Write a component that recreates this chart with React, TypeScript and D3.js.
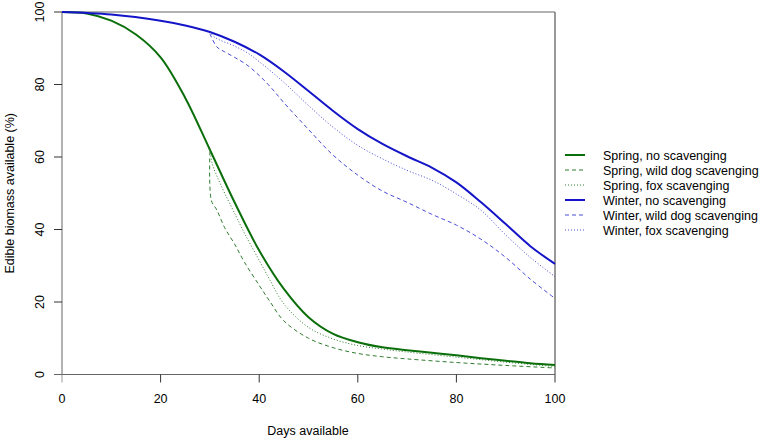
import React from "react";
import * as d3 from "d3";

const xTicks = [0, 20, 40, 60, 80, 100];
const yTicks = [0, 20, 40, 60, 80, 100];

const springNoDays = [0, 5, 10, 15, 20, 25, 30, 35, 40, 45, 50, 55, 60, 65, 70, 75, 80, 85, 90, 95, 100];
const springNoVals = [100, 99.6, 97.6, 93.8, 87.5, 76.3, 62, 47.5, 34.2, 23.6, 15.8, 11.2, 8.9, 7.5, 6.7, 6.0, 5.3, 4.5, 3.8, 3.1, 2.6];

const springDogDays = [30, 30.3, 31.4, 33, 35, 37, 40, 42, 45, 50, 55, 60, 65, 70, 80, 90, 100];
const springDogVals = [61.5, 48, 45.4, 40.5, 36, 31, 24.6, 20.5, 14.8, 10, 7.4, 5.8, 4.9, 4.3, 3.3, 2.5, 1.8];

const springFoxDays = [30, 30.5, 31.5, 33, 35, 37, 40, 42, 45, 50, 55, 60, 65, 70, 80, 90, 100];
const springFoxVals = [62, 58, 54.5, 50, 44.5, 39, 31.5, 26.5, 19.5, 13, 9.8, 8, 7, 6.2, 4.8, 3.4, 2.2];

const winterNoDays = [0, 10, 20, 25, 30, 35, 40, 45, 50, 55, 60, 65, 70, 75, 80, 85, 90, 95, 100];
const winterNoVals = [100, 99.3, 97.6, 96.3, 94.5, 91.8, 88.3, 83.6, 78.2, 72.7, 67.7, 63.6, 60.2, 57.1, 53, 47.5, 41.5, 35.4, 30.5];

const winterDogDays = [30, 31.4, 33, 35, 37.5, 40, 42.5, 45, 50, 55, 60, 65, 70, 75, 80, 85, 90, 95, 100];
const winterDogVals = [94, 90.4, 89, 87.5, 85.4, 82.5, 79, 75, 67.6, 60.5, 55, 50.6, 47.5, 44.2, 41.2, 37.3, 32.3, 26.3, 21];

const winterFoxDays = [30, 31, 35, 37.5, 40, 45, 50, 55, 60, 65, 70, 75, 80, 85, 90, 95, 100];
const winterFoxVals = [94.5, 93, 90.6, 88.8, 86.3, 80.6, 74.2, 68.2, 63.2, 59.5, 56.3, 53.6, 49.8, 45.3, 38.5, 32.3, 27];

const GREEN = "#0a6e0a";
const BLUE = "#1414c8";
const GREEN_L = "#2f7d2f";
const BLUE_L = "#4a4ad6";

const series = [
  { name: "Spring, no scavenging", days: springNoDays, vals: springNoVals, color: GREEN, width: 2, dash: "" },
  { name: "Spring, wild dog scavenging", days: springDogDays, vals: springDogVals, color: GREEN_L, width: 1, dash: "4,3" },
  { name: "Spring, fox scavenging", days: springFoxDays, vals: springFoxVals, color: GREEN_L, width: 1, dash: "1,2" },
  { name: "Winter, no scavenging", days: winterNoDays, vals: winterNoVals, color: BLUE, width: 2, dash: "" },
  { name: "Winter, wild dog scavenging", days: winterDogDays, vals: winterDogVals, color: BLUE_L, width: 1, dash: "4,3" },
  { name: "Winter, fox scavenging", days: winterFoxDays, vals: winterFoxVals, color: BLUE_L, width: 1, dash: "1,2" },
];

export default function App() {
  const W = 764, H = 440;
  const x = d3.scaleLinear().domain([0, 100]).range([62, 555]);
  const y = d3.scaleLinear().domain([0, 100]).range([374.5, 12]);
  const font = "Arial, 'Liberation Sans', sans-serif";
  const fs = 12.5;

  const line = d3
    .line<[number, number]>()
    .x((d) => x(d[0]))
    .y((d) => y(d[1]))
    .curve(d3.curveCatmullRom.alpha(0.5));

  return (
    <svg width={W} height={H} style={{ position: "absolute", left: 0, top: 0, background: "#fff" }}>
      <rect x={0} y={0} width={W} height={H} fill="#fff" />
      {/* frame */}
      <line x1={x(0)} x2={x(100)} y1={y(100)} y2={y(100)} stroke="#999" strokeWidth={1.5} />
      <line x1={x(100)} x2={x(100)} y1={y(100)} y2={y(0)} stroke="#777" strokeWidth={1.5} />
      <line x1={x(0)} x2={x(0)} y1={y(100)} y2={y(0)} stroke="#999" strokeWidth={1.5} />
      <line x1={x(0)} x2={x(100)} y1={y(0)} y2={y(0)} stroke="#666" strokeWidth={1.2} />
      {/* x ticks */}
      {xTicks.map((t) => (
        <g key={"xt" + t}>
          <line x1={x(t)} x2={x(t)} y1={y(0)} y2={y(0) + 8} stroke={t === 0 ? "#999" : "#333"} strokeWidth={1} />
          <text x={x(t)} y={403} textAnchor="middle" fontSize={fs} fontFamily={font} fill="#000">
            {t}
          </text>
        </g>
      ))}
      {/* y ticks */}
      {yTicks.map((t) => (
        <g key={"yt" + t}>
          <line x1={x(0) - 8} x2={x(0)} y1={y(t)} y2={y(t)} stroke={t === 0 ? "#666" : "#333"} strokeWidth={1} />
          <text
            transform={`translate(44,${y(t)}) rotate(-90)`}
            textAnchor="middle"
            fontSize={fs}
            fontFamily={font}
            fill="#000"
          >
            {t}
          </text>
        </g>
      ))}
      <text x={308} y={435} textAnchor="middle" fontSize={fs} fontFamily={font} fill="#000">
        Days available
      </text>
      <text
        transform={`translate(14,${(y(0) + y(100)) / 2}) rotate(-90)`}
        textAnchor="middle"
        fontSize={fs}
        fontFamily={font}
        fill="#000"
      >
        Edible biomass available (%)
      </text>
      {/* series */}
      {series.map((s) => (
        <path
          key={s.name}
          d={line(s.days.map((d, i) => [d, s.vals[i]] as [number, number])) || ""}
          fill="none"
          stroke={s.color}
          strokeWidth={s.width}
          strokeDasharray={s.dash}
        />
      ))}
      {/* legend */}
      {series.map((s, i) => (
        <g key={"lg" + s.name} transform={`translate(0,${155 + i * 15})`}>
          <line x1={565} x2={585} y1={0} y2={0} stroke={s.color} strokeWidth={s.width} strokeDasharray={s.dash} />
          <text x={603} y={4.5} fontSize={fs} fontFamily={font} fill="#000">
            {s.name}
          </text>
        </g>
      ))}
    </svg>
  );
}
